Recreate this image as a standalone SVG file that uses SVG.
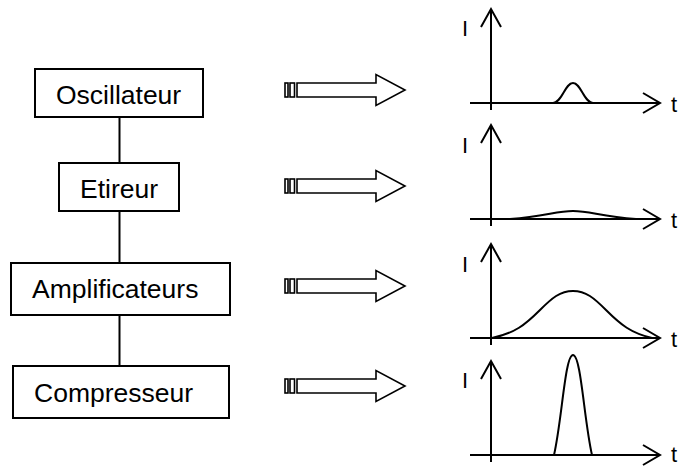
<svg xmlns="http://www.w3.org/2000/svg" xmlns:xlink="http://www.w3.org/1999/xlink" width="683" height="468" viewBox="0 0 683 468">
<style>
.box{fill:#fff;stroke:#000;stroke-width:2}
.lbl{font-family:"Liberation Sans",Arial,sans-serif;font-size:26.5px;fill:#000}
.ax{font-family:"Liberation Sans",Arial,sans-serif;font-size:22px;fill:#000}
.ln{fill:none;stroke:#000;stroke-width:2}
.arw{fill:#fff;stroke:#000;stroke-width:1.6;stroke-linejoin:miter}
.crv{fill:none;stroke:#000;stroke-width:2}
</style>
<defs>
<g id="bigarrow">
<rect class="arw" x="285" y="-7" width="3" height="14"/>
<rect class="arw" x="290" y="-7" width="4.5" height="14"/>
<polygon class="arw" points="297,-7 376,-7 376,-15.5 405,0 376,15.5 376,7 297,7"/>
</g>
<g id="axes">
<line class="ln" x1="491" y1="0" x2="491" y2="-94"/>
<polyline class="ln" points="481,-76 491,-94 501,-76"/>
<line class="ln" x1="470" y1="0" x2="660" y2="0"/>
<polyline class="ln" points="643,-10 660,0 643,10"/>
<line class="ln" x1="491" y1="0" x2="491" y2="7"/>
</g>
</defs>
<g id="connectors">
<line class="ln" x1="119.5" y1="117" x2="119.5" y2="163"/>
<line class="ln" x1="119.5" y1="211" x2="119.5" y2="263"/>
<line class="ln" x1="119.5" y1="315" x2="119.5" y2="366"/>
</g>
<g id="oscillateur"><rect class="box" x="35" y="69" width="168" height="48"/><text class="lbl" x="56" y="104">Oscillateur</text></g>
<g id="etireur"><rect class="box" x="59" y="163" width="120" height="48"/><text class="lbl" x="80" y="198">Etireur</text></g>
<g id="amplificateurs"><rect class="box" x="11" y="263" width="219" height="52"/><text class="lbl" x="32" y="298">Amplificateurs</text></g>
<g id="compresseur"><rect class="box" x="13" y="366" width="216" height="52"/><text class="lbl" x="34" y="402">Compresseur</text></g>
<g id="arrows">
<use xlink:href="#bigarrow" transform="translate(0,90)"/>
<use xlink:href="#bigarrow" transform="translate(0,186)"/>
<use xlink:href="#bigarrow" transform="translate(0,286)"/>
<use xlink:href="#bigarrow" transform="translate(0,386)"/>
</g>
<g id="graph1">
<use xlink:href="#axes" transform="translate(0,103)"/>
<text class="ax" x="462" y="36">I</text><text class="ax" x="671" y="112">t</text>
<path class="crv" d="M553,103 C562,103 565,83 573,83 C581,83 584,103 593,103"/>
</g>
<g id="graph2">
<use xlink:href="#axes" transform="translate(0,219)"/>
<text class="ax" x="462" y="153">I</text><text class="ax" x="671" y="228">t</text>
<path class="crv" d="M510,219 C545,217 555,211 573,211 C591,211 601,217 636,219"/>
</g>
<g id="graph3">
<use xlink:href="#axes" transform="translate(0,338)"/>
<text class="ax" x="462" y="272">I</text><text class="ax" x="671" y="347">t</text>
<path class="crv" d="M492,338 C515,333 525,325 540,310 C552,298 560,291 573,291 C586,291 594,298 606,310 C621,325 631,333 652,338"/>
</g>
<g id="graph4">
<use xlink:href="#axes" transform="translate(0,455)"/>
<text class="ax" x="462" y="388">I</text><text class="ax" x="671" y="462">t</text>
<path class="crv" d="M554,455 C562,420 565,355 573,355 C581,355 584,420 592,455"/>
</g>
</svg>
